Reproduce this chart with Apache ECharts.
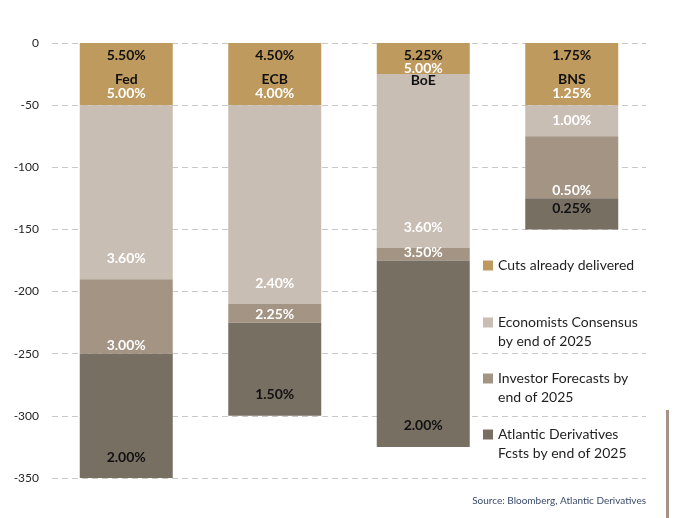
<!DOCTYPE html>
<html>
<head>
<meta charset="utf-8">
<script src="https://cdn.jsdelivr.net/npm/echarts@6/dist/echarts.min.js"></script>
<style>
  html, body { margin: 0; padding: 0; background: #fff; }
  #main { width: 675px; height: 518px; }
</style>
</head>
<body>
<div id="main"></div>
<script>
// banks and their rate path (bp cuts stacked downward)
var categories = ['Fed', 'ECB', 'BoE', 'BNS'];
var startRates = ['5.50%', '4.50%', '5.25%', '1.75%'];
var cutsDelivered = [-50, -50, -25, -50];
var economists = [-140, -160, -140, -25];
var investors = [-60, -15, -10, -50];
var atlantic = [-100, -75, -150, -25];
var cutsLabels = ['5.00%', '4.00%', '5.00%', '1.25%'];
var econLabels = ['3.60%', '2.40%', '3.60%', '1.00%'];
var investorLabels = ['3.00%', '2.25%', '3.50%', '0.50%'];
var atlanticLabels = ['2.00%', '1.50%', '2.00%', '0.25%'];
var seriesNames = [
  'Cuts already delivered',
  'Economists Consensus\nby end of 2025',
  'Investor Forecasts by\nend of 2025',
  'Atlantic Derivatives\nFcsts by end of 2025'
];
var colors = ['#BF9A5E', '#C9BEB3', '#A39483', '#786F63'];

var FONT = 'Lato';
var labelBase = { fontFamily: FONT, fontWeight: 'bold', fontSize: 14 };

var chart = echarts.init(document.getElementById('main'));

function mkSeries(idx, values, texts, labelFn) {
  return {
    name: seriesNames[idx],
    type: 'bar',
    stack: 'total',
    barWidth: 93,
    itemStyle: { color: colors[idx] },
    emphasis: { disabled: true },
    data: values.map(function (v, i) {
      return { value: v, label: labelFn(v, i) };
    }),
    label: Object.assign({ show: true }, labelBase),
    z: 2
  };
}

var cutsSeries = mkSeries(0, cutsDelivered, cutsLabels, function (v, i) {
  var tight = Math.abs(v) < 40;
  return {
    position: 'insideTop',
    distance: 0,
    padding: 0,
    formatter: tight
      ? '{a|' + startRates[i] + '}\n{w2|' + cutsLabels[i] + '}\n{n2|' + categories[i] + '}'
      : '{a|' + startRates[i] + '}\n{n|' + categories[i] + '}\n{w|' + cutsLabels[i] + '}',
    rich: {
      a:  Object.assign({ color: '#111', lineHeight: 24 }, labelBase),
      n:  Object.assign({ color: '#111', lineHeight: 24 }, labelBase),
      w:  Object.assign({ color: '#fff', lineHeight: 4 }, labelBase),
      w2: Object.assign({ color: '#fff', lineHeight: 2 }, labelBase),
      n2: Object.assign({ color: '#111', lineHeight: 22 }, labelBase)
    }
  };
});

var econSeries = mkSeries(1, economists, econLabels, function (v, i) {
  var small = Math.abs(v) < 40;
  return {
    position: small ? 'inside' : 'insideBottom',
    distance: 14,
    color: '#fff',
    formatter: econLabels[i]
  };
});

var invSeries = mkSeries(2, investors, investorLabels, function (v, i) {
  return {
    position: 'insideBottom',
    distance: 1,
    color: '#fff',
    formatter: investorLabels[i]
  };
});

var atlSeries = mkSeries(3, atlantic, atlanticLabels, function (v, i) {
  return {
    position: 'insideBottom',
    distance: 14,
    color: '#111',
    formatter: atlanticLabels[i]
  };
});

var legendText = { fontFamily: FONT, fontSize: 14, color: '#1f1f1f', lineHeight: 19 };

var option = {
  animation: false,
  backgroundColor: '#fff',
  grid: { left: 52, right: 29, top: 43, bottom: 40, containLabel: false },
  xAxis: {
    type: 'category',
    data: categories,
    axisLine: { show: false },
    axisTick: { show: false },
    axisLabel: { show: false },
    splitLine: { show: false }
  },
  yAxis: {
    type: 'value',
    min: -350,
    max: 0,
    interval: 50,
    axisLine: { show: false },
    axisTick: { show: false },
    axisLabel: { color: '#262626', fontFamily: FONT, fontSize: 12, margin: 13 },
    splitLine: { lineStyle: { color: '#c8c8c8', width: 1, type: [6, 4] } }
  },
  legend: [
    {
      orient: 'vertical',
      left: 478,
      top: 251,
      itemWidth: 10,
      itemHeight: 10,
      icon: 'rect',
      data: [seriesNames[0]],
      textStyle: legendText
    },
    {
      orient: 'vertical',
      left: 478,
      top: 308,
      itemWidth: 10,
      itemHeight: 38,
      itemGap: 18,
      icon: 'path://M0,0M0,4.5h10v10h-10zM10,38',
      data: seriesNames.slice(1),
      textStyle: legendText
    }
  ],
  title: {
    text: 'Source: Bloomberg, Atlantic Derivatives',
    right: 24,
    top: 491,
    textStyle: { fontFamily: FONT, fontSize: 10, fontWeight: 'normal', color: '#3A4A6B' }
  },
  graphic: [
    {
      type: 'rect',
      shape: { x: 666, y: 410, width: 3, height: 108 },
      style: { fill: '#A39483' },
      silent: true
    }
  ],
  series: [cutsSeries, econSeries, invSeries, atlSeries]
};

chart.setOption(option);
</script>
</body>
</html>
